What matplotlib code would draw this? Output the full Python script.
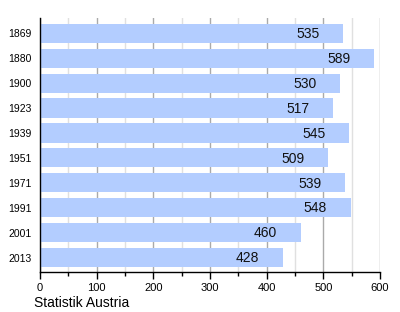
import matplotlib
matplotlib.use("Agg")
import matplotlib.pyplot as plt
from matplotlib.ticker import MultipleLocator

years = ["1869", "1880", "1900", "1923", "1939", "1951", "1971", "1991", "2001", "2013"]
population = [535, 589, 530, 517, 545, 509, 539, 548, 460, 428]

plt.rcParams['font.family'] = ['Liberation Sans', 'DejaVu Sans']

fig = plt.figure(figsize=(4, 3.12), dpi=100)
ax = fig.add_axes([0.1, 0.128, 0.85, 0.815])

pos = list(range(len(years)))
ax.barh(pos, population, height=0.77, color='#b3cdff', zorder=2)
for p, v in zip(pos, population):
    ax.annotate(str(v), (v, p), xytext=(-17, -0.5), textcoords='offset points',
                ha='right', va='center', fontsize=10, color='#111111', zorder=3)

ax.set_ylim(len(years) - 0.42, -0.62)
ax.set_xlim(0, 600)
ax.set_yticks(pos)
ax.set_yticklabels(years, fontsize=7.5)
ax.tick_params(axis='y', length=0, pad=6)
ax.xaxis.set_major_locator(MultipleLocator(100))
ax.xaxis.set_minor_locator(MultipleLocator(50))
ax.tick_params(axis='x', which='major', length=5, width=1, labelsize=8, pad=3)
ax.tick_params(axis='x', which='minor', length=3, width=1)
ax.grid(axis='x', which='major', color='#aaaaaa', linewidth=1, zorder=1)
ax.grid(axis='x', which='minor', color='#e0e0e0', linewidth=1, zorder=1)
for s in ['top', 'right']:
    ax.spines[s].set_visible(False)
ax.spines['left'].set_linewidth(1)
ax.spines['bottom'].set_linewidth(1)

fig.text(0.085, 0.008, "Statistik Austria", fontsize=10, ha='left', va='bottom')

fig.savefig("out.png", dpi=100)
